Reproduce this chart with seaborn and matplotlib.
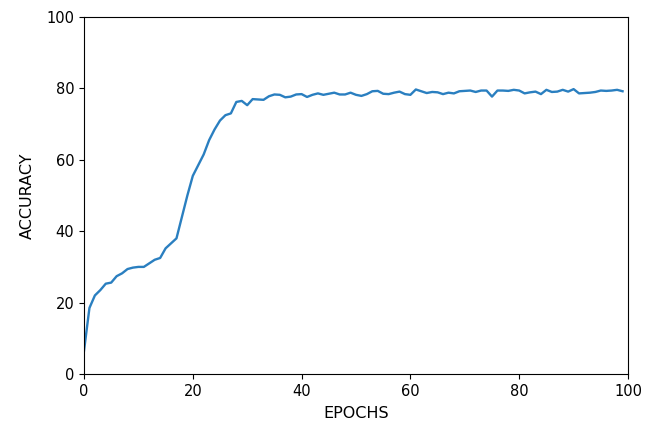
import matplotlib
matplotlib.use("Agg")
import matplotlib.pyplot as plt
import seaborn as sns
import pandas as pd

epochs = list(range(100))
accuracy = [
    6.5, 18.5, 22.0, 23.5, 25.3, 25.6, 27.4, 28.2, 29.4, 29.8,
    30.0, 30.0, 31.0, 32.0, 32.5, 35.2, 36.6, 38.0, 44.0, 50.0,
    55.5, 58.5, 61.5, 65.5, 68.5, 71.0, 72.5, 73.0, 76.2, 76.5,
    75.3, 77.0, 76.9, 76.8, 77.8, 78.3, 78.2, 77.5, 77.7, 78.3,
    78.4, 77.6, 78.2, 78.6, 78.2, 78.5, 78.8, 78.3, 78.3, 78.8,
    78.2, 77.9, 78.4, 79.2, 79.3, 78.5, 78.4, 78.8, 79.1, 78.4,
    78.2, 79.7, 79.2, 78.7, 79.0, 78.9, 78.4, 78.8, 78.6, 79.2,
    79.3, 79.4, 79.0, 79.4, 79.4, 77.7, 79.4, 79.4, 79.3, 79.6,
    79.4, 78.6, 78.9, 79.1, 78.4, 79.6, 79.0, 79.1, 79.6, 79.1,
    79.8, 78.6, 78.7, 78.8, 79.0, 79.4, 79.3, 79.4, 79.6, 79.2,
]

df = pd.DataFrame({"EPOCHS": epochs, "ACCURACY": accuracy})

fig = plt.figure(figsize=(6.62, 4.26), dpi=100)
ax = fig.add_axes([84 / 662, 1 - 374 / 426, (628 - 84) / 662, (374 - 17) / 426])
sns.lineplot(data=df, x="EPOCHS", y="ACCURACY", ax=ax, color="#2a7fc0", linewidth=1.7)
ax.set_xlim(0, 100)
ax.set_ylim(0, 100)
ax.tick_params(labelsize=10.5)
ax.set_xlabel("EPOCHS", fontsize=11.5, labelpad=5.5)
ax.set_ylabel("ACCURACY", fontsize=11.5, labelpad=8)
fig.savefig("out.png", dpi=100)
